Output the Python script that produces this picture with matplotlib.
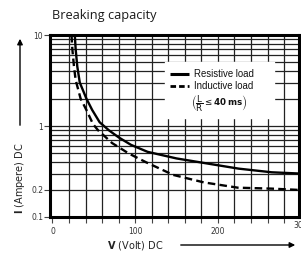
import matplotlib
matplotlib.use("Agg")
import matplotlib.pyplot as plt
import numpy as np

# Data
res_v = [27, 28, 30, 33, 41, 48, 57, 68, 80, 95, 115, 150, 185, 225, 265, 300]
res_i = [10, 7, 4.5, 3.0, 2.0, 1.5, 1.1, 0.9, 0.75, 0.62, 0.52, 0.44, 0.39, 0.34, 0.31, 0.30]
ind_v = [23, 24, 26, 28, 34, 41, 49, 55, 72, 92, 113, 146, 183, 224, 265, 300]
ind_i = [10, 7, 4.5, 3.2, 2.0, 1.5, 1.05, 0.9, 0.65, 0.50, 0.40, 0.29, 0.24, 0.21, 0.205, 0.198]

x_ticks = [0, 100, 200]
x_tick_labels = ["0", "100", "200"]
y_ticks = [0.1, 0.2, 1, 10]
y_tick_labels = ["0.1", "0.2", "1", "10"]
v_grid = list(range(20, 300, 20))
i_grid = [k * 10.0 ** e for e in (-1, 0) for k in range(1, 10)] + [10]

W, H = 301, 254
fig = plt.figure(figsize=(W / 100, H / 100), dpi=100)
fig.patch.set_facecolor("white")
ax = fig.add_axes([50 / W, 1 - 217 / H, 249 / W, 182 / H])
ax.set_yscale("log")
ax.set_xlim(-3, 298)
ax.set_ylim(0.1, 10)

for v in v_grid:
    ax.axvline(v, color="#222222", lw=0.9, zorder=1)
for i in i_grid:
    ax.axhline(i, color="#222222", lw=0.9, zorder=1)

ax.plot(res_v, res_i, color="black", lw=1.7, zorder=4, solid_capstyle="butt")
ax.plot(ind_v, ind_i, color="black", lw=1.7, ls=(0, (3.2, 1.8)), zorder=4)

# legend box (white, no border) covering grid
ax.fill_between([136, 268], [1.22, 1.22], [5.05, 5.05], color="white", zorder=2)
ax.plot([142, 165], [3.72, 3.72], color="black", lw=2.2, zorder=5, solid_capstyle="butt")
ax.plot([142, 165], [2.75, 2.75], color="black", lw=2.0, ls=(0, (2.0, 1.1)), zorder=5)
ax.text(171, 3.72, "Resistive load", fontsize=6.9, va="center", ha="left",
        family="Liberation Sans", color="#111111", zorder=6)
ax.text(171, 2.75, "Inductive load", fontsize=6.9, va="center", ha="left",
        family="Liberation Sans", color="#111111", zorder=6)
ax.text(168, 1.75, r"$\left(\dfrac{\mathrm{L}}{\mathrm{R}}\leq \mathbf{40\,ms}\right)$",
        fontsize=6.3, va="center", ha="left", color="#111111", zorder=6)

ax.set_xticks(x_ticks)
ax.set_xticklabels(x_tick_labels)
ax.set_xticks(v_grid + [0], minor=True)
ax.set_yticks(y_ticks)
ax.set_yticklabels(y_tick_labels)
ax.set_yticks([], minor=True)
ax.tick_params(axis="both", which="both", labelsize=5.5, labelcolor="#333333",
               color="#444444", width=0.8)
ax.tick_params(axis="x", which="both", length=4, pad=3)
ax.tick_params(axis="y", which="major", length=4, pad=1)
ax.text(300, -0.02, "300", transform=ax.get_xaxis_transform(), fontsize=5.5,
        color="#333333", ha="center", va="top", clip_on=False)
for s in ax.spines.values():
    s.set_linewidth(2.2)
    s.set_color("black")
    s.set_zorder(7)

fig.text(52 / W, 1 - 16 / H, "Breaking capacity", fontsize=9.2, family="Open Sans",
         ha="left", va="center", color="#1a1a1a")
fig.text(107 / W, 1 - 245 / H, r"$\mathbf{V}$ (Volt) DC", fontsize=7, family="DejaVu Sans",
         ha="left", va="center", color="#222222")
fig.text(20 / W, 1 - 178 / H, r"$\mathbf{I}$ (Ampere) DC", fontsize=7, family="DejaVu Sans",
         ha="center", va="center", rotation=90, color="#222222")
fig.patches.append(matplotlib.patches.FancyArrowPatch(
    (178 / W, 1 - 245 / H), (298 / W, 1 - 245 / H), transform=fig.transFigure,
    arrowstyle="-|>", mutation_scale=8, lw=1.0, color="black"))
fig.patches.append(matplotlib.patches.FancyArrowPatch(
    (20 / W, 1 - 128 / H), (20 / W, 1 - 36 / H), transform=fig.transFigure,
    arrowstyle="-|>", mutation_scale=8, lw=1.0, color="black"))

fig.savefig("out.png", dpi=100, facecolor="white")
